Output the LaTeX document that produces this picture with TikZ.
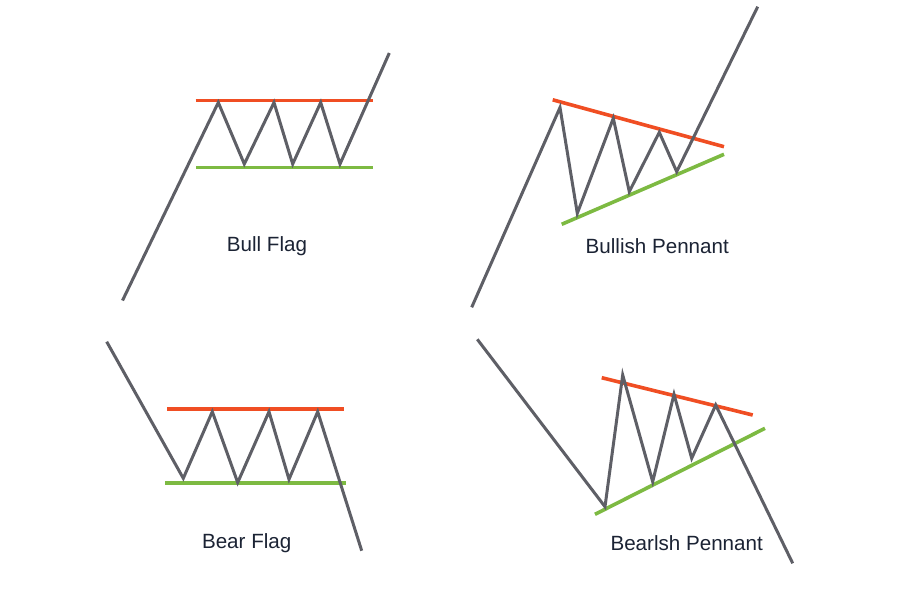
\documentclass[tikz,border=0pt]{standalone}
\usepackage{fontspec}
\setmainfont{Liberation Sans}
\definecolor{pricegray}{HTML}{5E5F66}
\definecolor{resred}{HTML}{F04E23}
\definecolor{supgreen}{HTML}{7DBA42}
\definecolor{labelnavy}{HTML}{1B2334}
\begin{document}
\begin{tikzpicture}[x=1pt,y=-1pt,
  price/.style={draw=pricegray,line width=3pt,line join=miter},
  resist/.style={draw=resred,line width=3.6pt},
  support/.style={draw=supgreen,line width=3.6pt},
  caption/.style={text=labelnavy,font=\fontsize{20.6}{23}\selectfont,inner sep=0pt}]
\useasboundingbox[fill=white] (0,0) rectangle (900,592);
% ---------- Bull Flag ----------
\coordinate (a0) at (122.5,300.5);
\coordinate (a1) at (218.3,102.5);
\coordinate (a2) at (244.3,164);
\coordinate (a3) at (274,102.5);
\coordinate (a4) at (292.7,164);
\coordinate (a5) at (320.7,102.5);
\coordinate (a6) at (340,164);
\coordinate (a7) at (389.3,53);
\coordinate (ar1) at (195.5,100.5);
\coordinate (ar2) at (372.5,100.5);
\coordinate (ag1) at (196,167.5);
\coordinate (ag2) at (373,167.5);
\draw[resist] (ar1) -- (ar2);
\draw[support] (ag1) -- (ag2);
\draw[price] (a0) -- (a1) -- (a2) -- (a3) -- (a4) -- (a5) -- (a6) -- (a7);
\node[caption] (lbl1) at (267,246.5) {Bull Flag};
% ---------- Bullish Pennant ----------
\coordinate (b0) at (471.7,307.3);
\coordinate (b1) at (560,107.5);
\coordinate (b2) at (577.3,213.3);
\coordinate (b3) at (613.3,118.3);
\coordinate (b4) at (629.3,191.7);
\coordinate (b5) at (659.3,132.3);
\coordinate (b6) at (676.7,171.7);
\coordinate (b7) at (757.7,6.7);
\coordinate (br1) at (552.7,99.8);
\coordinate (br2) at (724,146.7);
\coordinate (bg1) at (561.7,224.3);
\coordinate (bg2) at (724,154.3);
\draw[resist] (br1) -- (br2);
\draw[support] (bg1) -- (bg2);
\draw[price] (b0) -- (b1) -- (b2) -- (b3) -- (b4) -- (b5) -- (b6) -- (b7);
\node[caption] (lbl2) at (657.3,246.5) {Bullish Pennant};
% ---------- Bear Flag ----------
\coordinate (c0) at (106.7,341.7);
\coordinate (c1) at (183.3,478.3);
\coordinate (c2) at (212.3,411.7);
\coordinate (c3) at (237.7,482.5);
\coordinate (c4) at (269,411.7);
\coordinate (c5) at (289,479.3);
\coordinate (c6) at (317.7,411.7);
\coordinate (c7) at (361.7,550.7);
\coordinate (cr1) at (167.3,409);
\coordinate (cr2) at (344,409);
\coordinate (cg1) at (165,482.7);
\coordinate (cg2) at (345.7,482.7);
\draw[resist] (cr1) -- (cr2);
\draw[support] (cg1) -- (cg2);
\draw[price] (c0) -- (c1) -- (c2) -- (c3) -- (c4) -- (c5) -- (c6) -- (c7);
\node[caption] (lbl3) at (246.7,543.5) {Bear Flag};
% ---------- Bearish Pennant ----------
\coordinate (d0) at (477.3,339.3);
\coordinate (d1) at (605,506.7);
\coordinate (d2) at (622.7,375);
\coordinate (d3) at (652.7,481.7);
\coordinate (d4) at (674,394.3);
\coordinate (d5) at (691.7,458.3);
\coordinate (d6) at (715.7,405);
\coordinate (d7) at (792.7,563.3);
\coordinate (dr1) at (601.7,377.7);
\coordinate (dr2) at (752.7,415);
\coordinate (dg1) at (595,514.3);
\coordinate (dg2) at (765,428.3);
\draw[resist] (dr1) -- (dr2);
\draw[support] (dg1) -- (dg2);
\draw[price] (d0) -- (d1) -- (d2) -- (d3) -- (d4) -- (d5) -- (d6) -- (d7);
\node[caption] (lbl4) at (686.7,543.5) {Bearlsh Pennant};
\end{tikzpicture}
\end{document}
